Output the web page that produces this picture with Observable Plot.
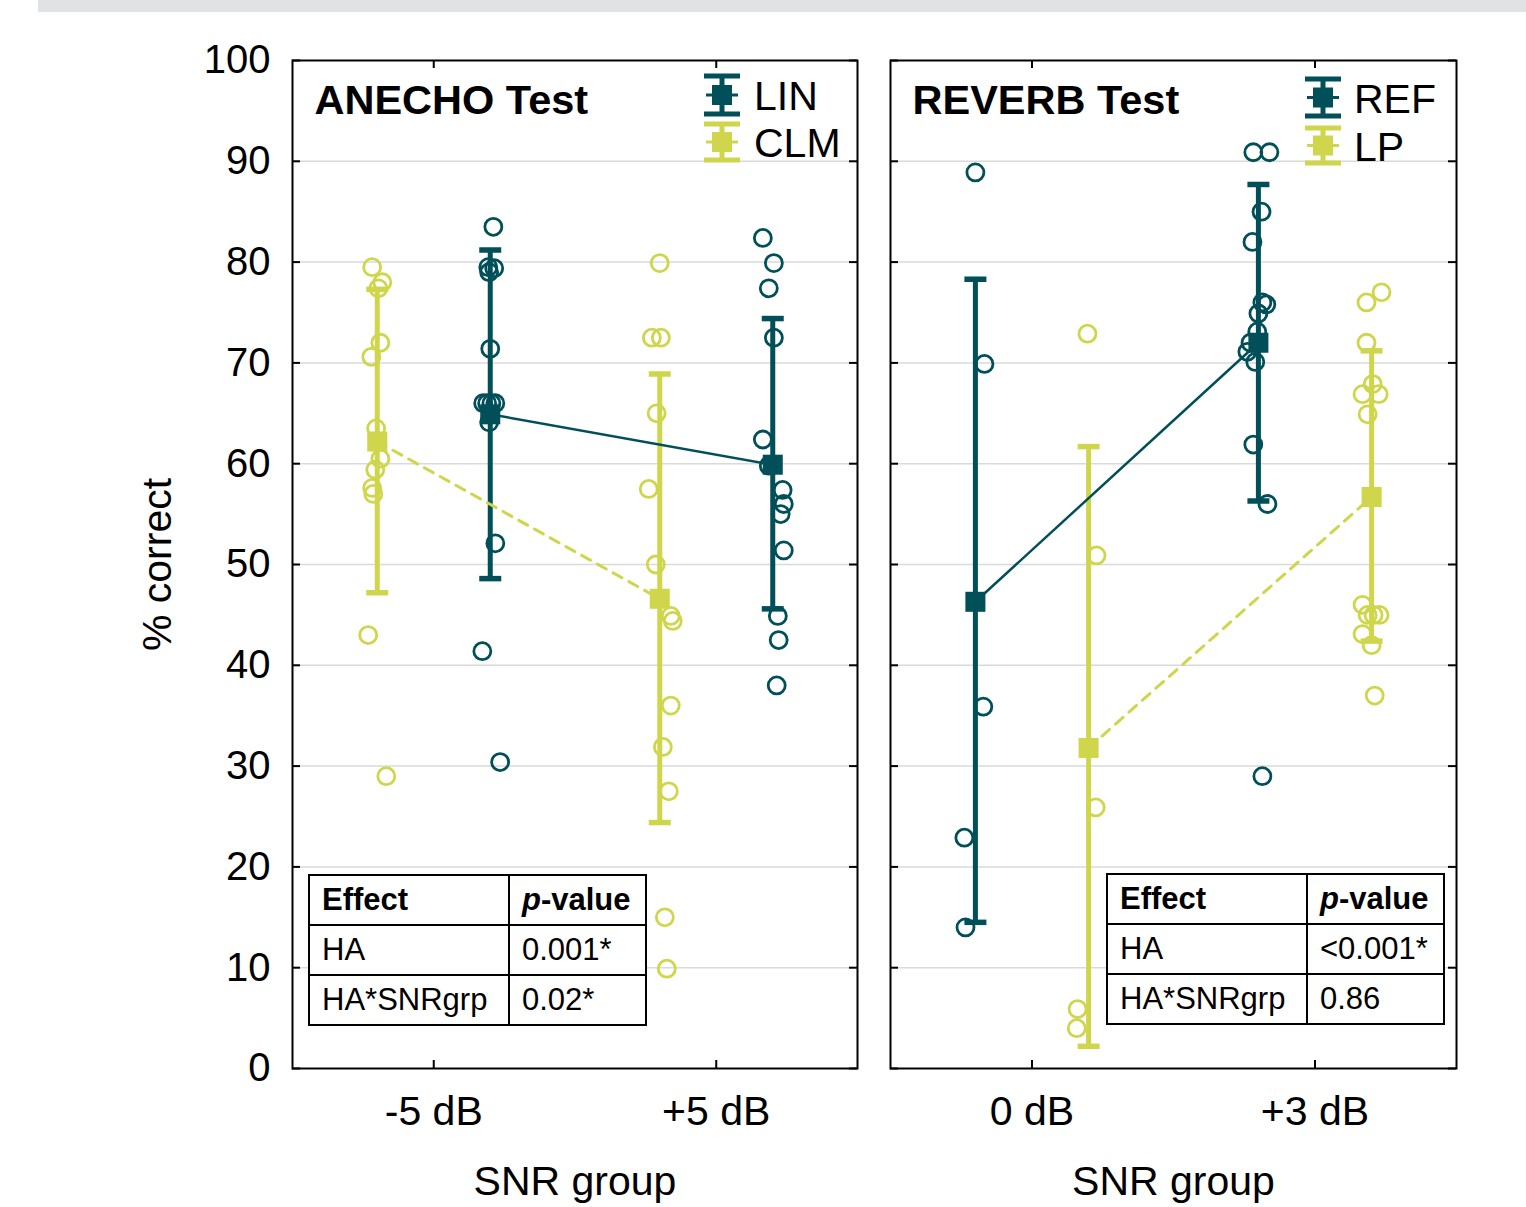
<!DOCTYPE html>
<html>
<head>
<meta charset="utf-8">
<script src="https://cdn.jsdelivr.net/npm/d3@7"></script>
<script src="https://cdn.jsdelivr.net/npm/@observablehq/plot@0.6"></script>
<style>
  html, body { margin: 0; padding: 0; background: #fff; overflow: hidden; }
  body { font-family: "Liberation Sans", Arial, Helvetica, sans-serif; }
  #wrap { position: relative; width: 1526px; height: 1207px; }
  .topbar { position: absolute; left: 38px; top: 0; width: 1488px; height: 12px; background: #e1e2e4; }
  .panel { position: absolute; top: 0; }
  table.stats { position: absolute; border-collapse: collapse; table-layout: fixed; font-size: 31px; color: #000; background: #fff; }
  table.stats td { border: 2px solid #000; height: 50px; padding: 0 0 0 12px; box-sizing: border-box; white-space: nowrap; vertical-align: middle; }
  #overlay { position: absolute; left: 0; top: 0; pointer-events: none; }
</style>
</head>
<body>
<div id="wrap">
  <div class="topbar"></div>
  <div id="p1" class="panel" style="left:0px"></div>
  <div id="p2" class="panel" style="left:870px"></div>
</div>
<script>
// ---------------- data ----------------
const yTicks = [0, 10, 20, 30, 40, 50, 60, 70, 80, 90, 100];

// ANECHO test
const anechoGroups = ["-5 dB", "+5 dB"];
const anechoTitle = "ANECHO Test";
const anechoLegend = ["LIN", "CLM"];
// LIN individual scores (-5 dB, +5 dB) and their horizontal jitter (x units)
const linM5 = [83.5, 79.5, 79.4, 79.0, 71.4, 66.0, 66.0, 66.0, 66.0, 64.1, 52.1, 41.4, 30.4];
const linM5Jit = [0.011, -0.007, 0.014, -0.004, 0, -0.025, -0.011, 0.004, 0.018, -0.004, 0.018, -0.028, 0.035];
const linP5 = [82.4, 79.9, 77.4, 72.5, 62.4, 59.8, 57.4, 56.0, 55.0, 51.4, 44.9, 42.5, 38.0];
const linP5Jit = [-0.035, 0.004, -0.014, 0.004, -0.035, -0.014, 0.035, 0.039, 0.028, 0.039, 0.018, 0.021, 0.014];
const linMeans = [64.9, 59.9];
const linLo = [48.6, 45.6];
const linHi = [81.2, 74.4];
// CLM
const clmM5 = [79.5, 78.0, 77.4, 72.0, 70.6, 63.5, 60.5, 59.4, 57.6, 57.0, 43.0, 29.0];
const clmM5Jit = [-0.018, 0.018, 0.004, 0.011, -0.021, -0.004, 0.011, -0.007, -0.018, -0.014, -0.032, 0.032];
const clmP5 = [79.9, 72.5, 72.5, 65.0, 57.5, 50.0, 44.9, 44.4, 36.0, 31.9, 27.5, 15.0, 9.9];
const clmP5Jit = [0, -0.028, 0.004, -0.011, -0.039, -0.014, 0.039, 0.046, 0.039, 0.011, 0.032, 0.018, 0.025];
const clmMeans = [62.2, 46.6];
const clmLo = [47.2, 24.4];
const clmHi = [77.3, 68.9];
const anechoEffects = ["HA", "HA*SNRgrp"];
const anechoP = ["0.001*", "0.02*"];

// REVERB test
const reverbGroups = ["0 dB", "+3 dB"];
const reverbTitle = "REVERB Test";
const reverbLegend = ["REF", "LP"];
const ref0 = [88.9, 69.9, 35.9, 22.9, 14.0];
const ref0Jit = [0, 0.032, 0.028, -0.039, -0.035];
const refP3 = [90.9, 90.9, 85.0, 82.0, 76.0, 75.8, 74.9, 73.1, 72.0, 71.1, 70.1, 61.9, 56.0, 29.0];
const refP3Jit = [-0.018, 0.039, 0.011, -0.021, 0.014, 0.028, 0, -0.004, -0.028, -0.039, -0.011, -0.018, 0.032, 0.014];
const refMeans = [46.3, 72.0];
const refLo = [14.5, 56.3];
const refHi = [78.3, 87.7];
const lp0 = [72.9, 50.9, 25.9, 5.9, 4.0];
const lp0Jit = [-0.004, 0.028, 0.025, -0.039, -0.042];
const lpP3 = [77.0, 76.0, 72.0, 67.9, 66.9, 66.9, 64.9, 46.0, 45.0, 45.0, 45.0, 43.1, 42.0, 37.0];
const lpP3Jit = [0.035, -0.018, -0.018, 0.004, -0.032, 0.025, -0.014, -0.032, -0.014, 0.007, 0.028, -0.032, 0, 0.011];
const lpMeans = [31.8, 56.7];
const lpLo = [2.2, 42.4];
const lpHi = [61.7, 71.2];
const reverbEffects = ["HA", "HA*SNRgrp"];
const reverbP = ["<0.001*", "0.86"];

const yLabel = "% correct";
const xLabel = "SNR group";
const effectHeader = "Effect";

// ---------------- styling ----------------
const TEAL = "#004f59";
const LIME = "#cfd64c";
const FONT = "'Liberation Sans', Arial, Helvetica, sans-serif";
const H = 1200, MT = 60, MB = 132;
const frameH = H - MT - MB;

const capSymbol = { draw(ctx) { ctx.moveTo(-11, 0); ctx.lineTo(11, 0); } };

function makePanel({ groups, title, series, width, ml, mr, showY }) {
  const frameW = width - ml - mr;
  const marks = [];
  marks.push(Plot.ruleY(yTicks.slice(1, -1), { y: d => d, stroke: "#dadada", strokeWidth: 1.5 }));
  // inward ticks
  marks.push(Plot.tickY(yTicks, { y: d => d, insetRight: frameW - 8, stroke: "#000", strokeWidth: 2 }));
  marks.push(Plot.tickY(yTicks, { y: d => d, insetLeft: frameW - 8, stroke: "#000", strokeWidth: 2 }));
  const gpos = groups.map((g, i) => ({ g, x: i + 0.5 }));
  marks.push(Plot.tickX(gpos, { x: "x", insetTop: frameH - 8, stroke: "#000", strokeWidth: 2 }));
  marks.push(Plot.tickX(gpos, { x: "x", insetBottom: frameH - 8, stroke: "#000", strokeWidth: 2 }));

  for (const s of series) {
    const meanRows = s.means.map((m, i) => ({ x: i + 0.5 + s.offset, m, lo: s.lo[i], hi: s.hi[i] }));
    const pts = [];
    s.points.forEach((arr, gi) => arr.forEach((v, k) => pts.push({ x: gi + 0.5 + s.offset + s.jit[gi][k], y: v })));
    marks.push(Plot.ruleX(meanRows, { x: "x", y1: "lo", y2: "hi", stroke: s.color, strokeWidth: 5 }));
    marks.push(Plot.dot(meanRows, { x: "x", y: "lo", symbol: capSymbol, stroke: s.color, strokeWidth: 5.5, fill: "none" }));
    marks.push(Plot.dot(meanRows, { x: "x", y: "hi", symbol: capSymbol, stroke: s.color, strokeWidth: 5.5, fill: "none" }));
    marks.push(Plot.dot(pts, { x: "x", y: "y", r: 8.5, stroke: s.color, strokeWidth: 2.8, fill: "none" }));
    s.meanRows = meanRows;
  }
  for (const s of series) {
    marks.push(Plot.line(s.meanRows, { x: "x", y: "m", stroke: s.color, strokeWidth: s.dashed ? 3 : 2.5, strokeDasharray: s.dashed ? "10,8" : null }));
  }
  for (const s of series) {
    marks.push(Plot.dot(s.meanRows, { x: "x", y: "m", symbol: "square", r: 11.3, fill: s.color, stroke: "none" }));
  }
  marks.push(Plot.frame({ stroke: "#000", strokeWidth: 2 }));

  if (showY) {
    marks.push(Plot.text(yTicks, { y: d => d, frameAnchor: "left", dx: -22, textAnchor: "end", text: d => String(d), fontSize: 40, fill: "#000" }));
    marks.push(Plot.text([yLabel], { frameAnchor: "left", rotate: -90, dx: -135, textAnchor: "middle", text: d => d, fontSize: 41, fill: "#000" }));
  }
  marks.push(Plot.text(gpos, { x: "x", frameAnchor: "bottom", dy: 56, text: "g", fontSize: 41, fill: "#000" }));
  marks.push(Plot.text([xLabel], { frameAnchor: "bottom", dy: 126, textAnchor: "middle", text: d => d, fontSize: 41, fill: "#000" }));
  marks.push(Plot.text([title], { frameAnchor: "top-left", dx: 22, dy: 24, textAnchor: "start", text: d => d, fontSize: 41.5, fontWeight: "bold", fill: "#000" }));

  return Plot.plot({
    width, height: H,
    marginTop: MT, marginBottom: MB, marginLeft: ml, marginRight: mr,
    x: { domain: [0, 2], axis: null },
    y: { domain: [0, 100], axis: null },
    style: { fontFamily: FONT, background: "transparent", overflow: "visible" },
    marks
  });
}

const p1 = makePanel({
  groups: anechoGroups, title: anechoTitle, width: 870, ml: 292, mr: 13, showY: true,
  series: [
    { color: TEAL, offset: 0.2, dashed: false, means: linMeans, lo: linLo, hi: linHi, points: [linM5, linP5], jit: [linM5Jit, linP5Jit] },
    { color: LIME, offset: -0.2, dashed: true, means: clmMeans, lo: clmLo, hi: clmHi, points: [clmM5, clmP5], jit: [clmM5Jit, clmP5Jit] }
  ]
});
const p2 = makePanel({
  groups: reverbGroups, title: reverbTitle, width: 656, ml: 20, mr: 70, showY: false,
  series: [
    { color: TEAL, offset: -0.2, dashed: false, means: refMeans, lo: refLo, hi: refHi, points: [ref0, refP3], jit: [ref0Jit, refP3Jit] },
    { color: LIME, offset: 0.2, dashed: true, means: lpMeans, lo: lpLo, hi: lpHi, points: [lp0, lpP3], jit: [lp0Jit, lpP3Jit] }
  ]
});
document.getElementById("p1").appendChild(p1);
document.getElementById("p2").appendChild(p2);

// ---------------- tables ----------------
function makeTable(left, top, effects, pvals) {
  const t = document.createElement("table");
  t.className = "stats";
  t.style.left = left + "px";
  t.style.top = top + "px";
  t.style.width = "337px";
  const cg = document.createElement("colgroup");
  cg.innerHTML = '<col style="width:200px"><col style="width:137px">';
  t.appendChild(cg);
  const hr = t.insertRow();
  const h1 = hr.insertCell(); h1.innerHTML = "<b></b>"; h1.firstChild.textContent = effectHeader;
  const h2 = hr.insertCell(); h2.innerHTML = "<b><i>p</i>-value</b>";
  effects.forEach((e, i) => {
    const r = t.insertRow();
    r.insertCell().textContent = e;
    r.insertCell().textContent = pvals[i];
  });
  document.getElementById("wrap").appendChild(t);
}
makeTable(308, 874, anechoEffects, anechoP);
makeTable(1106, 873, reverbEffects, reverbP);

// ---------------- legends ----------------
const NS = "http://www.w3.org/2000/svg";
const ov = document.createElementNS(NS, "svg");
ov.setAttribute("id", "overlay");
ov.setAttribute("width", 1526);
ov.setAttribute("height", 1207);
document.getElementById("wrap").appendChild(ov);
function el(name, attrs, parent) {
  const e = document.createElementNS(NS, name);
  for (const k in attrs) e.setAttribute(k, attrs[k]);
  parent.appendChild(e);
  return e;
}
function legendItem(cx, top, bottom, color, label, tx) {
  const g = el("g", {}, ov);
  el("line", { x1: cx, x2: cx, y1: top, y2: bottom, stroke: color, "stroke-width": 5 }, g);
  el("line", { x1: cx - 18, x2: cx + 18, y1: top, y2: top, stroke: color, "stroke-width": 5 }, g);
  el("line", { x1: cx - 18, x2: cx + 18, y1: bottom, y2: bottom, stroke: color, "stroke-width": 5 }, g);
  el("line", { x1: cx - 16, x2: cx + 16, y1: (top + bottom) / 2, y2: (top + bottom) / 2, stroke: color, "stroke-width": 3 }, g);
  el("rect", { x: cx - 10, y: (top + bottom) / 2 - 10, width: 20, height: 20, fill: color }, g);
  const t = el("text", { x: tx, y: (top + bottom) / 2 + 15, "font-size": 41, "font-family": FONT, fill: "#000" }, g);
  t.textContent = label;
}
legendItem(722, 76, 114, TEAL, anechoLegend[0], 754);
legendItem(722, 124, 160, LIME, anechoLegend[1], 754);
legendItem(1323, 79, 116, TEAL, reverbLegend[0], 1354);
legendItem(1323, 128, 163, LIME, reverbLegend[1], 1354);
</script>
</body>
</html>
